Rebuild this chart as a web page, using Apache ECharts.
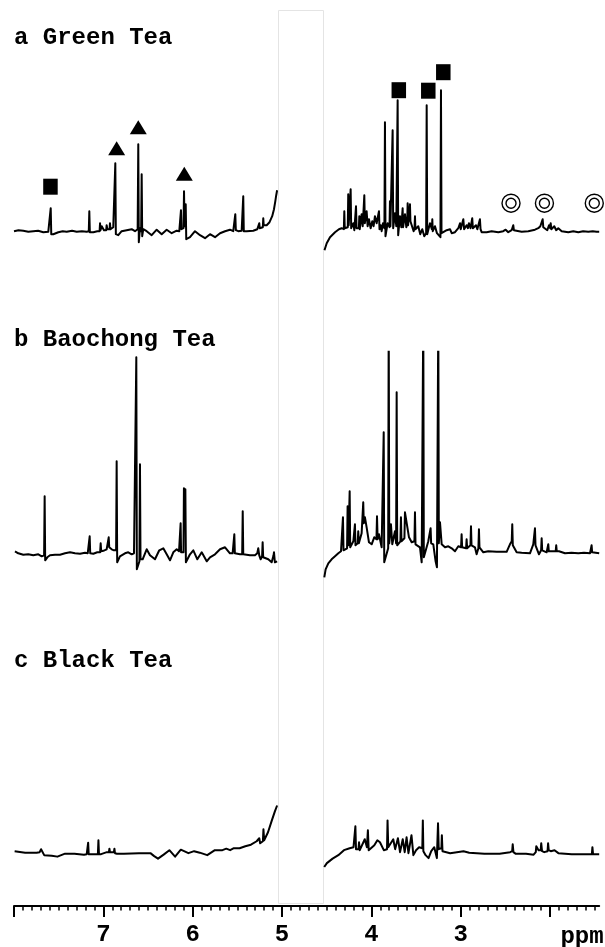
<!DOCTYPE html>
<html>
<head>
<meta charset="utf-8">
<title>1H NMR spectra of tea extracts</title>
<script src="https://cdn.jsdelivr.net/npm/echarts@6/dist/echarts.min.js"></script>
<style>
  html, body { margin: 0; padding: 0; background: #fff; }
  #chart { width: 605px; height: 947px; }
</style>
</head>
<body>
<div id="chart"></div>
<script>
// Chemical shift window (ppm) and axis ticks
const ppmMin = 1.45;
const ppmMax = 8.0;
const majorTicks = [8, 7, 6, 5, 4, 3, 2];
const tickLabels = [7, 6, 5, 4, 3];
const minorTicks = [8.0, 7.9, 7.8, 7.7, 7.6, 7.5, 7.4, 7.3, 7.2, 7.1, 7.0, 6.9, 6.8, 6.7, 6.6, 6.5, 6.4, 6.3, 6.2, 6.1,
  6.0, 5.9, 5.8, 5.7, 5.6, 5.5, 5.4, 5.3, 5.2, 5.1, 5.0, 4.9, 4.8, 4.7, 4.6, 4.5, 4.4, 4.3, 4.2, 4.1,
  4.0, 3.9, 3.8, 3.7, 3.6, 3.5, 3.4, 3.3, 3.2, 3.1, 3.0, 2.9, 2.8, 2.7, 2.6, 2.5, 2.4, 2.3, 2.2, 2.1,
  2.0, 1.9, 1.8, 1.7, 1.6, 1.5];
// suppressed water region (no signal plotted)
const waterRegion = [5.04, 4.54];

const panelTitles = ['a Green Tea', 'b Baochong Tea', 'c Black Tea'];

// Spectrum traces: [ppm, relative intensity]
const greenLeft = [[8.000,0],[7.950,1],[7.896,0.5],[7.840,-0.5],[7.784,0],[7.730,0.5],[7.672,-1],[7.616,-0.5],
  [7.595,0],[7.589,23],[7.583,-3],[7.560,-3],[7.504,-1],[7.455,0],[7.410,-0.5],[7.350,0.5],[7.298,-0.5],[7.240,0],[7.186,-0.5],
  [7.163,0],[7.157,20],[7.151,-1],[7.112,-1],[7.068,0],
  [7.042,0],[7.037,8],[7.032,1],[7.018,5],[6.993,1],[6.968,1],[6.963,6],[6.955,2],[6.945,3],[6.930,2],[6.926,8],[6.920,2],[6.907,2],[6.889,4],
  [6.872,2],[6.866,68],[6.860,-3],[6.833,-4],[6.795,0],[6.739,1],[6.683,2],[6.646,0],
  [6.616,2],[6.609,87],[6.603,-11],[6.590,3],[6.577,0],[6.571,57],[6.565,-5],[6.553,2],[6.515,0],[6.459,-4],[6.403,1.5],[6.347,-3],[6.291,1.5],[6.235,-2],[6.179,0.5],[6.150,0],
  [6.137,0],[6.131,21],[6.126,2],[6.103,3],[6.097,40],[6.092,10],[6.084,5],[6.078,27],[6.072,-8],
  [6.030,-6],[5.974,0],[5.918,-4],[5.862,-7],[5.806,-3],[5.750,-6],[5.694,-2],[5.638,0],[5.583,1.5],[5.546,0],
  [5.529,0],[5.523,17],[5.517,1],[5.490,0],[5.452,0.5],[5.440,0.5],[5.434,35],[5.428,0],[5.396,0],[5.322,0.5],[5.277,2],
  [5.260,2],[5.255,8],[5.250,3],[5.228,4],[5.215,4],[5.210,13],[5.205,6],[5.172,6],[5.140,9],[5.110,15],[5.090,22],[5.075,30],[5.065,36],[5.055,41]];

const greenRight = [[4.525,-19],[4.500,-12],[4.463,-6],[4.407,-1],[4.363,2],[4.333,3],
  [4.308,2],[4.303,20],[4.298,3],[4.277,4],[4.264,4],[4.259,37],[4.254,6],[4.238,5],[4.232,42],[4.226,3],[4.202,8],[4.191,1],
  [4.178,2],[4.172,25],[4.166,3],[4.153,5],[4.140,3],[4.135,15],[4.130,2],[4.109,17],[4.097,5],
  [4.085,6],[4.079,36],[4.073,8],[4.053,20],[4.042,5],[4.027,12],[4.008,3],[3.990,10],[3.975,5],[3.960,15],[3.941,8],
  [3.921,9],[3.915,20],[3.909,2],[3.896,6],[3.885,0],[3.870,8],
  [3.854,3],[3.848,109],[3.842,-5],[3.818,8],[3.797,4],[3.792,30],[3.787,5],
  [3.768,6],[3.762,101],[3.756,3],[3.736,18],[3.721,5],
  [3.712,5],[3.706,131],[3.700,-4],[3.680,15],[3.665,4],[3.655,5],[3.650,23],[3.645,4],[3.624,17],[3.609,4],
  [3.599,8],[3.594,28],[3.589,6],[3.573,6],[3.568,27],[3.563,10],[3.542,12],[3.527,0],[3.517,3],[3.512,15],[3.507,2],[3.475,5],[3.453,-3],[3.430,2],[3.408,-5],
  [3.387,-2],[3.381,126],[3.375,-3],[3.344,8],[3.323,2],[3.318,12],[3.313,0],[3.288,5],[3.266,-2],[3.251,-4],
  [3.227,-6],[3.221,141],[3.215,-2],[3.195,-2],[3.157,1],[3.120,2],[3.101,-2],[3.064,-1],[3.027,3],[3.013,2],[3.008,8],[3.000,2],[2.980,3],[2.971,12],[2.962,2],[2.953,3],[2.934,6],[2.920,3],[2.908,8],[2.890,3],[2.877,4],[2.871,13],[2.864,3],[2.848,4],[2.829,6],[2.814,2],[2.792,3],[2.785,12],[2.778,2],[2.766,-1],[2.747,-2],[2.710,-1],[2.654,0],[2.579,-1],[2.524,0],[2.497,1.5],[2.468,-1],[2.430,1],[2.418,2],[2.412,6],[2.405,1],[2.393,0],[2.318,-0.5],[2.244,0],[2.169,1.5],[2.132,3],[2.109,5],[2.090,4],[2.083,12],[2.076,4],[2.057,3],[2.031,1],[2.012,6],[1.999,3],[1.993,8],[1.986,2],[1.975,2],[1.953,5],[1.931,1],[1.908,3],[1.870,0],[1.796,-1],[1.740,0],[1.684,-1],[1.630,0],[1.572,-0.5],[1.522,0],[1.516,2],[1.510,0],[1.479,-0.5],[1.450,-0.5]];

const baochongLeft = [[7.989,2],[7.952,0],[7.896,-1.5],[7.840,-1],[7.784,-2],[7.728,-1],[7.690,-3],
  [7.663,-2],[7.657,57],[7.651,-7],[7.627,-4],[7.597,-2],[7.541,-1.5],[7.485,-1.5],[7.429,0],[7.373,1],[7.317,0],[7.261,-0.5],[7.205,0.5],[7.175,0],
  [7.159,0],[7.153,17],[7.147,0],[7.112,-0.5],[7.068,1],[7.036,1],[7.030,10],[7.024,2],[7.000,2.5],[6.963,4],[6.946,4],[6.940,16],[6.934,6],[6.926,8],[6.907,4],[6.881,3],
  [6.857,3],[6.851,92],[6.845,-9],[6.814,-3],[6.758,0],[6.721,1],[6.683,-1],[6.657,0],
  [6.637,0],[6.631,196],[6.625,-16],[6.596,-8],[6.590,89],[6.584,-6],[6.560,-6],[6.515,4],[6.478,-2],[6.422,-6],[6.374,3],[6.329,5],[6.291,-1],[6.254,-7],[6.217,1],[6.179,4],[6.153,2],
  [6.140,3],[6.135,30],[6.130,1],[6.103,1],[6.098,65],[6.090,45],[6.082,64],[6.076,-9],
  [6.030,-1],[5.993,3],[5.948,-6],[5.899,1],[5.843,-8],[5.806,-4],[5.750,-1],[5.694,4],[5.638,6],[5.583,0],[5.553,0],
  [5.540,0],[5.534,19],[5.528,0],[5.508,-1],[5.471,-1],[5.446,-1],[5.440,42],[5.434,-1],[5.415,-1],[5.359,-2],[5.303,-2],[5.277,0],[5.266,5],[5.255,-2],[5.239,-6],[5.223,-3],[5.217,11],[5.211,-4],[5.191,-6],[5.154,-6],[5.116,-9],[5.095,-2],[5.090,1],[5.080,-9],[5.068,-10],[5.055,-8]];

const baochongRight = [[4.527,-24],[4.512,-16],[4.482,-10],[4.445,-6],[4.407,-3],[4.370,0],[4.340,2],
  [4.324,3],[4.318,36],[4.312,3],[4.296,4],[4.272,5],[4.266,47],[4.258,8],[4.249,8],[4.243,62],[4.237,6],[4.228,6],[4.202,12],[4.190,10],[4.184,29],[4.178,8],[4.165,9],[4.153,10],[4.147,22],[4.140,10],[4.128,12],[4.109,20],[4.097,18],[4.091,51],[4.085,30],[4.072,36],[4.053,26],[4.027,11],[3.997,9],[3.968,16],[3.943,14],[3.937,37],[3.930,14],[3.915,19],[3.885,6],
  [3.868,6],[3.862,121],[3.856,-9],[3.835,-11],[3.812,5],[3.806,240],[3.800,10],[3.781,29],[3.766,9],[3.736,22],[3.723,10],[3.717,161],[3.711,8],[3.699,9],[3.675,12],[3.669,36],[3.663,12],[3.650,12],[3.630,15],[3.624,41],[3.602,39],[3.579,16],[3.549,11],[3.518,12],[3.512,41],[3.506,9],[3.490,9],[3.456,6],[3.437,-9],
  [3.425,-9],[3.419,240],[3.413,-4],[3.400,-4],[3.363,12],[3.343,12],[3.337,25],[3.331,10],[3.307,9],[3.281,-8],[3.266,-14],
  [3.257,-14],[3.251,240],[3.245,10],[3.232,31],[3.213,9],[3.176,6],[3.139,7],[3.101,5],[3.064,2],[3.027,7],[2.996,6],[2.990,19],[2.984,6],[2.964,6],[2.940,5],[2.934,14],[2.928,5],[2.908,6],[2.891,8],[2.885,27],[2.879,8],[2.863,9],[2.841,6],[2.822,-1],[2.802,5],[2.796,24],[2.790,6],[2.773,7],[2.747,1],[2.692,2],[2.598,1.5],[2.486,1.5],[2.449,9],[2.429,12],[2.423,29],[2.417,8],[2.400,6],[2.374,1],[2.318,0.5],[2.225,0],[2.188,9],[2.175,10],[2.169,25],[2.163,8],[2.150,9],[2.124,-1],[2.100,3],[2.094,15],[2.088,3],[2.068,1],[2.038,1],[2.026,2],[2.020,9],[2.014,2],[1.998,1],[1.964,2],[1.937,2],[1.931,8],[1.925,2],[1.900,2],[1.833,0],[1.760,0.5],[1.684,0],[1.620,0.5],[1.553,0],[1.541,0],[1.535,8],[1.529,1],[1.509,0],[1.450,0]];

const blackLeft = [[7.993,2],[7.875,0.5],[7.747,0.5],[7.713,1],[7.697,4],[7.662,-2],[7.578,-2.5],[7.514,-3.5],[7.429,-0.5],[7.323,-0.5],[7.217,-1.5],[7.186,-1],[7.176,-1],[7.170,10.5],[7.164,-1],[7.144,-2],[7.089,-1],[7.061,-1],[7.055,13],[7.049,-1],[7.025,-1],[6.961,1],[6.938,1],[6.932,4.5],[6.926,1],[6.906,1],[6.882,1],[6.876,4.5],[6.870,0],[6.847,-0.5],[6.770,-0.5],[6.601,0],[6.580,2],[6.537,0],[6.473,0],[6.431,-3],[6.388,-5.5],[6.325,-1.5],[6.261,3],[6.197,-3.5],[6.133,3.5],[6.048,0],[5.984,2],[5.921,0.5],[5.837,-2],[5.752,3],[5.667,3],[5.624,4.5],[5.581,3],[5.539,5],[5.475,5],[5.411,7],[5.348,8.5],[5.284,12],[5.262,12],[5.255,15],[5.245,10],[5.233,11],[5.214,12],[5.208,24],[5.200,13],[5.191,14],[5.157,21],[5.114,33],[5.080,42],[5.055,48]];

const blackRight = [[4.528,-14],[4.498,-10],[4.434,-5.5],[4.370,-2],[4.307,3],[4.243,5],[4.200,6],[4.185,6],[4.179,27],[4.172,4],[4.159,3],[4.144,4],[4.138,11],[4.130,3],[4.116,3],[4.074,14],[4.050,6],[4.039,23],[4.030,3],[4.010,3],[3.967,8],[3.933,13],[3.904,11],[3.861,3],[3.825,4],[3.819,33],[3.811,6],[3.789,6],[3.755,14],[3.734,4],[3.703,15],[3.679,1],[3.649,14],[3.627,1],[3.606,16],[3.585,0],[3.551,18],[3.530,-2],[3.500,3],[3.466,6],[3.430,5],[3.424,33],[3.418,2],[3.393,-2],[3.360,-5],[3.330,2],[3.296,6],[3.267,-5],[3.260,-5],[3.254,30],[3.246,4],[3.232,4],[3.216,5],[3.211,18],[3.204,2],[3.194,0],[3.118,0],[2.969,2],[2.905,0.5],[2.735,-0.5],[2.565,-0.5],[2.447,1],[2.424,2],[2.418,9],[2.410,1],[2.387,-0.5],[2.269,-0.5],[2.184,-1.5],[2.160,1],[2.154,7],[2.129,3],[2.105,3],[2.099,10],[2.090,2],[2.065,1],[2.028,2],[2.022,10],[2.015,3],[1.992,2],[1.950,3],[1.907,0],[1.758,-1],[1.568,-1],[1.532,-1],[1.526,6],[1.519,-1],[1.504,-1],[1.450,-1]];

// Peak assignment markers on the green tea spectrum: [ppm, height]
const squareMarks = [[7.592,44.5],[3.693,141],[3.363,140.5],[3.195,159]];
const triangleMarks = [[6.851,83],[6.609,104],[6.094,57.5]];
const ringMarks = [[2.437,28],[2.063,28],[1.505,28]];

const FONT = '"Liberation Mono", "Courier New", monospace';
const plotLeft = 14;
const plotWidth = 585.2;

const chart = echarts.init(document.getElementById('chart'), null, { renderer: 'canvas' });

function hiddenX(gridIndex) {
  return {
    type: 'value', gridIndex, min: ppmMin, max: ppmMax, inverse: true, show: false
  };
}
function hiddenY(gridIndex, min, max) {
  return { type: 'value', gridIndex, min, max, show: false };
}
function trace(data, axisIndex) {
  return {
    type: 'line', data, xAxisIndex: axisIndex, yAxisIndex: axisIndex,
    showSymbol: false, symbol: 'none', silent: true, z: 3,
    lineStyle: { color: '#000', width: 2, join: 'round' }
  };
}

chart.setOption({
  animation: false,
  backgroundColor: '#fff',
  grid: [
    { left: plotLeft, width: plotWidth, top: 31.2, height: 230 },     // a
    { left: plotLeft, width: plotWidth, top: 351.7, height: 241.6 },  // b
    { left: plotLeft, width: plotWidth, top: 654.5, height: 253.2 },  // c (carries the ppm axis)
    { left: plotLeft, width: plotWidth, top: 10, height: 893 }        // water band frame
  ],
  xAxis: [
    hiddenX(0),
    hiddenX(1),
    {
      type: 'value', gridIndex: 2, min: ppmMin, max: ppmMax, inverse: true, position: 'bottom',
      axisLine: { show: true, onZero: false, lineStyle: { color: '#000', width: 2 } },
      axisTick: { show: true, customValues: majorTicks, length: 11, lineStyle: { color: '#000', width: 2 } },
      axisLabel: {
        show: true, customValues: tickLabels, margin: 17,
        formatter: v => String(v),
        color: '#000', fontFamily: FONT, fontWeight: 'bold', fontSize: 24
      },
      splitLine: { show: false }
    },
    {
      type: 'value', gridIndex: 2, min: ppmMin, max: ppmMax, inverse: true, position: 'bottom',
      axisLine: { show: false, onZero: false },
      axisTick: { show: true, customValues: minorTicks, length: 4.5, lineStyle: { color: '#000', width: 1.5 } },
      axisLabel: { show: false },
      splitLine: { show: false }
    },
    hiddenX(3)
  ],
  yAxis: [
    hiddenY(0, -30, 200),
    hiddenY(1, -40, 201.6),
    hiddenY(2, -53.2, 200),
    hiddenY(3, 0, 1)
  ],
  graphic: [
    ...panelTitles.map((t, i) => ({
      type: 'text', x: 14, y: [37.5, 340, 661][i], silent: true,
      style: { text: t, font: 'bold 24px ' + FONT, fill: '#000', verticalAlign: 'middle', textVerticalAlign: 'middle' }
    })),
    {
      type: 'text', x: 582, y: 936.5, silent: true,
      style: { text: 'ppm', font: 'bold 24px ' + FONT, fill: '#000', align: 'center', textAlign: 'center', verticalAlign: 'middle', textVerticalAlign: 'middle' }
    }
  ],
  series: [
    {
      type: 'custom', xAxisIndex: 4, yAxisIndex: 3, silent: true, z: 1,
      data: [waterRegion],
      renderItem: (params, api) => {
        const p0 = api.coord([api.value(0), 1]);
        const p1 = api.coord([api.value(1), 0]);
        return {
          type: 'rect',
          shape: { x: Math.round(p0[0]) + 0.5, y: Math.round(p0[1]) + 0.5, width: Math.round(p1[0] - p0[0]), height: Math.round(p1[1] - p0[1]) },
          style: { fill: 'none', stroke: '#e4e4e4', lineWidth: 1 }
        };
      }
    },
    trace(greenLeft, 0),
    trace(greenRight, 0),
    trace(baochongLeft, 1),
    trace(baochongRight, 1),
    trace(blackLeft, 2),
    trace(blackRight, 2),
    {
      type: 'scatter', xAxisIndex: 0, yAxisIndex: 0, data: squareMarks, silent: true, z: 4,
      symbol: 'rect', symbolSize: [14.5, 16], itemStyle: { color: '#000', opacity: 1 }
    },
    {
      type: 'scatter', xAxisIndex: 0, yAxisIndex: 0, data: triangleMarks, silent: true, z: 4,
      symbol: 'triangle', symbolSize: [17, 14], itemStyle: { color: '#000', opacity: 1 }
    },
    {
      type: 'scatter', xAxisIndex: 0, yAxisIndex: 0, data: ringMarks, silent: true, z: 4,
      symbol: 'circle', symbolSize: 18, itemStyle: { color: '#fff', borderColor: '#000', borderWidth: 1.4, opacity: 1 }
    },
    {
      type: 'scatter', xAxisIndex: 0, yAxisIndex: 0, data: ringMarks, silent: true, z: 5,
      symbol: 'circle', symbolSize: 10, itemStyle: { color: '#fff', borderColor: '#000', borderWidth: 1.4, opacity: 1 }
    }
  ]
});
</script>
</body>
</html>
